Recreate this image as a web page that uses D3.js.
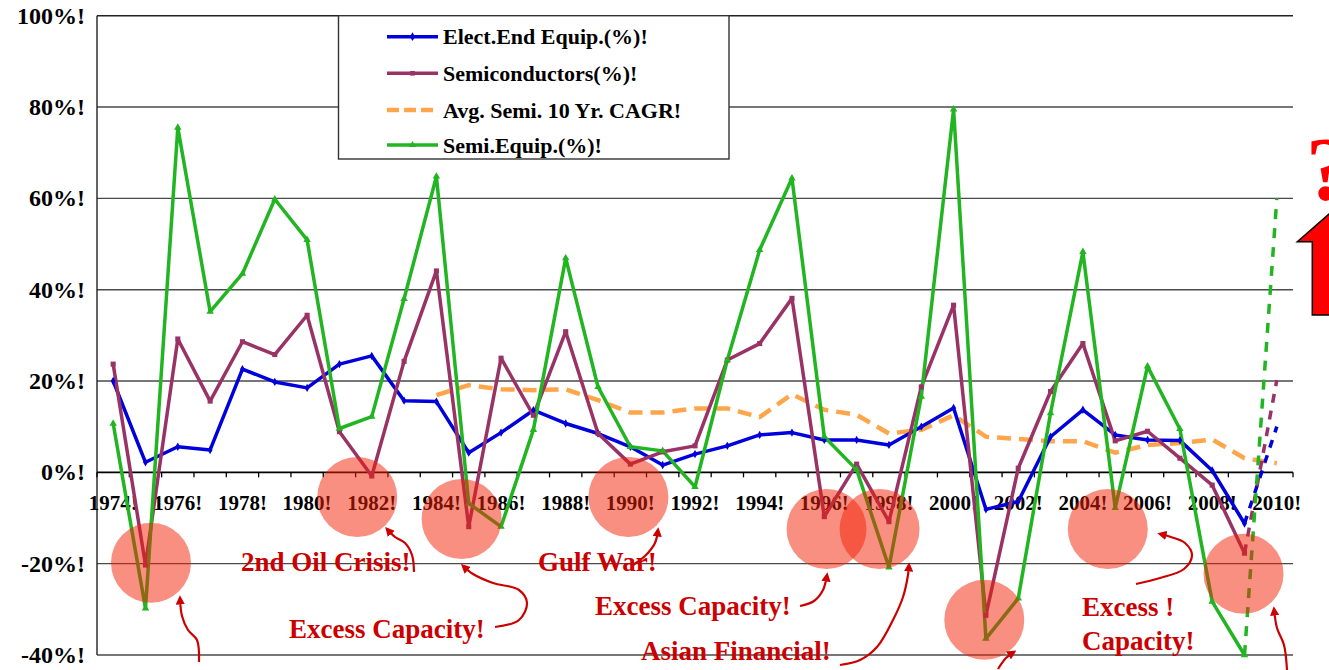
<!DOCTYPE html>
<html><head><meta charset="utf-8">
<script src="https://cdn.jsdelivr.net/npm/d3@7/dist/d3.min.js"></script>
<style>html,body{margin:0;padding:0;background:#fff;overflow:hidden}</style>
</head><body><svg id="c" width="1329" height="670"></svg>
<script>
// ---------------- DATA ----------------
const years = [1974,1975,1976,1977,1978,1979,1980,1981,1982,1983,1984,1985,1986,1987,1988,1989,1990,1991,1992,1993,1994,1995,1996,1997,1998,1999,2000,2001,2002,2003,2004,2005,2006,2007,2008,2009,2010];
const actualYears = [1974,1975,1976,1977,1978,1979,1980,1981,1982,1983,1984,1985,1986,1987,1988,1989,1990,1991,1992,1993,1994,1995,1996,1997,1998,1999,2000,2001,2002,2003,2004,2005,2006,2007,2008,2009];
const electEndEquip = [20.0,2.2,5.6,4.9,22.6,19.8,18.5,23.7,25.5,15.7,15.5,4.3,8.7,13.6,10.7,8.5,5.6,1.6,4.0,5.8,8.2,8.7,7.1,7.1,6.0,10.0,14.1,-8.1,-6.4,7.8,13.7,8.2,7.1,7.0,0.4,-11.2];
const semiconductors = [23.7,-20.3,29.2,15.6,28.6,25.8,34.4,8.9,-0.8,24.3,44.1,-11.9,25.0,12.5,30.8,8.5,1.8,4.5,5.8,24.6,28.2,38.1,-9.7,1.8,-10.8,18.7,36.6,-31.3,0.9,17.7,28.2,6.9,9.0,3.1,-2.8,-17.7];
const semiEquip = [10.7,-29.8,75.5,35.2,43.5,59.8,50.9,9.6,12.2,38.0,64.8,-6.8,-11.9,9.3,46.9,18.7,5.6,4.7,-3.2,24.6,48.7,64.4,7.8,0.6,-20.8,16.6,79.5,-36.4,-27.6,13.0,48.3,-7.8,23.2,9.5,-28.3,-40.0];
const cagrYears = [1984,1985,1986,1987,1988,1989,1990,1991,1992,1993,1994,1995,1996,1997,1998,1999,2000,2001,2002,2003,2004,2005,2006,2007,2008,2009,2010];
const semiCagr = [16.9,19.1,18.2,18.0,18.2,15.8,13.1,13.1,14.0,14.0,12.1,17.1,13.7,12.6,8.5,9.3,12.5,7.8,7.3,6.8,6.8,4.3,6.0,6.4,7.2,3.1,2.0];
const forecastYears = [2009,2010];
const electForecast = [-11.2,10.0];
const semiForecast = [-17.7,20.2];
const equipForecast = [-40.0,60.0];
const yTicks = [-40,-20,0,20,40,60,80,100];
const xLabelYears = [1974,1976,1978,1980,1982,1984,1986,1988,1990,1992,1994,1996,1998,2000,2002,2004,2006,2008,2010];
const seriesNames = ["Elect.End Equip.(%)!","Semiconductors(%)!","Avg. Semi. 10 Yr. CAGR!","Semi.Equip.(%)!"];
// downturn highlights (year position, value)
const highlightYears = [1975.17,1981.55,1984.78,1989.94,1996.07,1997.71,2000.95,2004.77,2008.97];
const highlightValues = [-19.8,-5.4,-10.2,-5.4,-12.4,-12.4,-32.3,-12.4,-22.2];
const eventTexts = ["2nd Oil Crisis!","Excess Capacity!","Gulf War!","Excess Capacity!","Asian Financial!","Excess !","Capacity!"];

// ---------------- LAYOUT ----------------
const M = {left:97, right:1293, top:15.7, bottom:655};
const colors = {elect:"#0000DD", semi:"#993366", cagr:"#FFA64D", equip:"#22B522", red:"#CC0000"};
const serif = "'Liberation Serif','Times New Roman',serif";
const eventPos = [[241,571],[289,638],[538,571],[595,615],[641,660],[1082,616],[1082,650]];
const arrowPaths = [
  [[199,662],[197,640],[188,630],[182,616],[180,598]],
  [[414,572],[412,555],[405,543],[395,537],[387,529]],
  [[495,627],[519,620],[527,603],[519,590],[493,583],[473,574],[463,566]],
  [[633,565],[646,555],[655,543],[658,530]],
  [[800,606],[814,601],[823,590],[827,575]],
  [[840,665],[860,660],[877,647],[893,620],[903,597],[908,575],[909,565]],
  [[998,669],[1006,658],[1014,652]],
  [[1136,584],[1160,578],[1184,569],[1192,555],[1185,543],[1171,537],[1160,534]],
  [[1287,670],[1284,645],[1277,628],[1274,609]]
];

const svg = d3.select("#c");
const defs = svg.append("defs");
defs.append("marker").attr("id","ah").attr("viewBox","0 0 10 10").attr("refX",7).attr("refY",5)
  .attr("markerWidth",4.2).attr("markerHeight",4.2).attr("orient","auto")
  .append("path").attr("d","M0,0 L10,5 L0,10 z").attr("fill",colors.red);

const x = d3.scaleBand().domain(years).range([M.left, M.right]);
const xc = d => x(d) + x.bandwidth()/2;
const xf = d3.scaleLinear().domain([1974,2010]).range([xc(1974), xc(2010)]);
const y = d3.scaleLinear().domain([-40,100]).range([M.bottom, M.top]);

// gridlines
svg.append("g").selectAll("line").data(yTicks.filter(t=>t!==0)).join("line")
  .attr("x1",M.left).attr("x2",M.right).attr("y1",d=>y(d)).attr("y2",d=>y(d))
  .attr("stroke",d=>d===100?"#222":"#4a4a4a").attr("stroke-width",1.4);
// left axis
svg.append("line").attr("x1",M.left).attr("x2",M.left).attr("y1",M.top).attr("y2",M.bottom)
  .attr("stroke","#222").attr("stroke-width",1.4);
// y labels
svg.append("g").selectAll("text").data(yTicks).join("text")
  .attr("x",85).attr("y",d=>y(d)+8).attr("text-anchor","end")
  .attr("font-family",serif).attr("font-weight","bold").attr("font-size",24)
  .text(d=>d+"%!");
// x axis at 0
svg.append("line").attr("x1",M.left).attr("x2",M.right).attr("y1",y(0)).attr("y2",y(0))
  .attr("stroke","#000").attr("stroke-width",1.6);
const bounds = years.map(d=>x(d)).concat([M.right]);
svg.append("g").selectAll("line").data(bounds).join("line")
  .attr("x1",d=>d).attr("x2",d=>d).attr("y1",y(0)).attr("y2",y(0)+5)
  .attr("stroke","#000").attr("stroke-width",1.3);
svg.append("g").selectAll("text").data(xLabelYears).join("text")
  .attr("x",d=>xc(d)).attr("y",y(0)+38).attr("text-anchor","middle")
  .attr("font-family",serif).attr("font-weight","bold").attr("font-size",21)
  .text(d=>d+"!");

// lines
const line = (xs) => d3.line().x((d,i)=>xc(xs[i])).y(d=>y(d));
function drawSeries(xs, vals, color, dash, w){
  svg.append("path").datum(vals).attr("d",line(xs)).attr("fill","none")
    .attr("stroke",color).attr("stroke-width",w).attr("stroke-linejoin","round")
    .attr("stroke-dasharray",dash||null);
}
drawSeries(cagrYears, semiCagr, colors.cagr, "14,8", 4.5);
drawSeries(actualYears, electEndEquip, colors.elect, null, 3.5);
drawSeries(actualYears, semiconductors, colors.semi, null, 3.5);
drawSeries(actualYears, semiEquip, colors.equip, null, 3.5);
drawSeries(forecastYears, electForecast, colors.elect, "8,8", 3.5);
drawSeries(forecastYears, semiForecast, colors.semi, "9,8", 3.5);
drawSeries(forecastYears, equipForecast, colors.equip, "10,9", 3.5);

// markers
function drawMarkers(xs, vals, color, type, size){
  svg.append("g").selectAll("path").data(vals).join("path")
    .attr("transform",(d,i)=>`translate(${xc(xs[i])},${y(d)})`)
    .attr("d",d3.symbol().type(type).size(size)).attr("fill",color);
}
drawMarkers(actualYears, electEndEquip, colors.elect, d3.symbolDiamond, 20);
drawMarkers(actualYears, semiconductors, colors.semi, d3.symbolSquare, 26);
drawMarkers(actualYears, semiEquip, colors.equip, d3.symbolTriangle, 24);

// legend
const lg = svg.append("g");
lg.append("rect").attr("x",338.5).attr("y",15.7).attr("width",390.5).attr("height",143.3)
  .attr("fill","#fff").attr("stroke","#333").attr("stroke-width",1.4);
const lgStyles = [
  {c:colors.elect,dash:null,sym:d3.symbolDiamond},
  {c:colors.semi,dash:null,sym:d3.symbolSquare},
  {c:colors.cagr,dash:"12,5",sym:null},
  {c:colors.equip,dash:null,sym:d3.symbolTriangle}];
const lgY = [36.7,73.3,110,145];
seriesNames.forEach((n,i)=>{
  const s = lgStyles[i];
  lg.append("line").attr("x1",387).attr("x2",438).attr("y1",lgY[i]).attr("y2",lgY[i])
    .attr("stroke",s.c).attr("stroke-width",i===2?4.5:3.5).attr("stroke-dasharray",s.dash);
  if(s.sym) lg.append("path").attr("transform",`translate(412.5,${lgY[i]})`)
    .attr("d",d3.symbol().type(s.sym).size(22)).attr("fill",s.c);
  lg.append("text").attr("x",443).attr("y",lgY[i]+7.5)
    .attr("font-family",serif).attr("font-weight","bold").attr("font-size",22)
    .text(n);
});

// highlight circles
svg.append("g").selectAll("circle").data(highlightValues).join("circle")
  .attr("cx",(d,i)=>xf(highlightYears[i])).attr("cy",d=>y(d)).attr("r",40)
  .attr("fill","rgb(241,32,4)").attr("fill-opacity",0.5);

// event labels
svg.append("g").selectAll("text").data(eventTexts).join("text")
  .attr("x",(d,i)=>eventPos[i][0]).attr("y",(d,i)=>eventPos[i][1])
  .attr("font-family",serif).attr("font-weight","bold").attr("font-size",27)
  .attr("fill",colors.red).text(d=>d);

// arrows
const curve = d3.line().curve(d3.curveCatmullRom.alpha(0.5));
svg.append("g").selectAll("path").data(arrowPaths).join("path")
  .attr("d",d=>curve(d)).attr("fill","none").attr("stroke",colors.red)
  .attr("stroke-width",2.2).attr("marker-end","url(#ah)");

// big red up arrow and question mark
svg.append("path").attr("d","M1297.3,241.7 L1350,195.6 L1402.7,241.7 L1387.7,241.7 L1387.7,315 L1312.3,315 L1312.3,241.7 Z")
  .attr("fill","#FF0000").attr("stroke","#000").attr("stroke-width",1.5);
svg.append("text").attr("x",1306).attr("y",200).attr("font-family",serif).attr("font-weight","bold")
  .attr("font-size",90).attr("fill","#FF0000").text("?");
</script></body></html>
